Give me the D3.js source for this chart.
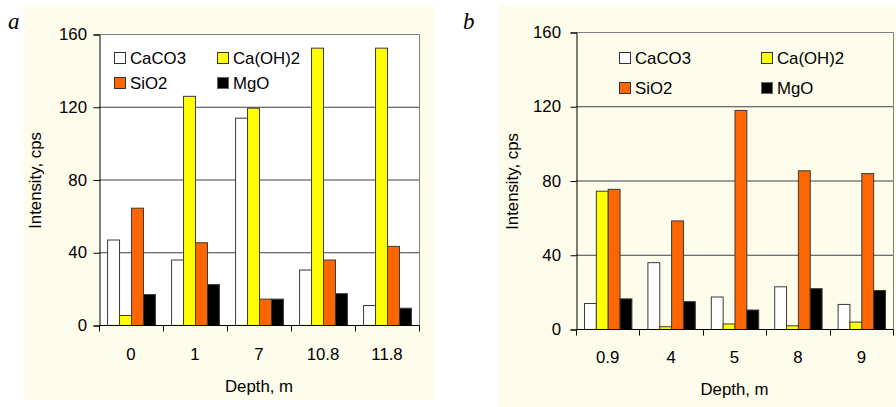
<!DOCTYPE html>
<html>
<head>
<meta charset="utf-8">
<script src="https://cdn.jsdelivr.net/npm/d3@7"></script>
<style>
  html, body { margin: 0; padding: 0; background: #ffffff; }
  svg { display: block; }
  text { font-family: "Liberation Sans", Arial, sans-serif; fill: #000; }
</style>
</head>
<body>
<svg id="chart" width="896" height="407"></svg>
<script>
// ---------- data ----------
const seriesNames = ["CaCO3", "Ca(OH)2", "SiO2", "MgO"];
const seriesColors = ["#FFFFFF", "#FFFF00", "#FF6600", "#000000"];
const yTicks = [0, 40, 80, 120, 160];

const catsA = ["0", "1", "7", "10.8", "11.8"];
const caco3A = [47, 36, 114, 30.5, 11];
const caoh2A = [5.5, 126, 119.5, 152.5, 152.5];
const sio2A = [64.5, 45.5, 14.5, 36, 43.5];
const mgoA = [17, 22.5, 14.5, 17.5, 9.5];

const catsB = ["0.9", "4", "5", "8", "9"];
const caco3B = [14, 36, 17.5, 23, 13.5];
const caoh2B = [74.5, 1.5, 3, 2, 4];
const sio2B = [75.5, 58.5, 118, 85.5, 84];
const mgoB = [16.5, 15, 10.5, 22, 21];

// ---------- helpers ----------
const svg = d3.select("#chart");
const SX = 1.05;
const FS = 16;

function label(g, x, y, str, anchor) {
  return g.append("text")
    .attr("transform", `translate(${x},${y}) scale(${SX},1)`)
    .attr("text-anchor", anchor)
    .style("font-size", FS + "px")
    .text(str);
}

function panel(cfg) {
  const g = svg.append("g");
  g.append("rect").attr("x", cfg.bg[0]).attr("y", cfg.bg[1])
    .attr("width", cfg.bg[2]).attr("height", cfg.bg[3]).attr("fill", "#FEFCEA");

  const x0 = d3.scaleBand().domain(cfg.cats).range([cfg.left, cfg.right]).paddingInner(0).paddingOuter(0);
  const x1 = d3.scaleBand().domain(seriesNames).range([0, x0.bandwidth()]).paddingInner(0).paddingOuter(0.675);
  const y = d3.scaleLinear().domain([0, 160]).range([cfg.bottom, cfg.top]);

  if (cfg.plotFill) {
    g.append("rect").attr("x", cfg.left).attr("y", cfg.top)
      .attr("width", cfg.right - cfg.left).attr("height", cfg.bottom - cfg.top)
      .attr("fill", cfg.plotFill);
  }
  g.selectAll("line.grid").data(yTicks.filter(d => d > 0 && d < 160)).enter()
    .append("line").attr("class", "grid")
    .attr("x1", cfg.left).attr("x2", cfg.right)
    .attr("y1", d => y(d) + 0.5).attr("y2", d => y(d) + 0.5)
    .attr("stroke", "#404040").attr("stroke-width", 1);
  g.append("path")
    .attr("d", `M${cfg.left},${y(160) + 0.5}H${cfg.right + 0.5}V${cfg.bottom}`)
    .attr("fill", "none").attr("stroke", "#808080").attr("stroke-width", 1);

  const data = cfg.cats.map((c, i) => ({ cat: c, vals: cfg.series.map((s, j) => ({ name: seriesNames[j], v: s[i], color: seriesColors[j] })) }));
  const grp = g.selectAll("g.cat").data(data).enter().append("g")
    .attr("transform", d => `translate(${x0(d.cat)},0)`);
  grp.selectAll("rect").data(d => d.vals).enter().append("rect")
    .attr("x", d => x1(d.name) + 0.5)
    .attr("y", d => y(d.v) + 0.5)
    .attr("width", x1.bandwidth())
    .attr("height", d => Math.max(0, y(0) - y(d.v)))
    .attr("fill", d => d.color)
    .attr("stroke", "#3a3a3a").attr("stroke-width", 1);

  const yAxis = d3.axisLeft(y).tickValues(yTicks).tickSize(6).tickFormat("");
  const ya = g.append("g").attr("transform", `translate(${cfg.left + 0.5},0.5)`).call(yAxis);
  ya.selectAll("path, line").attr("stroke", "#000");
  yTicks.forEach(t => {
    label(g, cfg.left - cfg.yLabelGap, y(t) + 6, String(t), "end");
  });

  const xa = g.append("g").attr("transform", `translate(0,${cfg.bottom + 0.5})`);
  xa.append("line").attr("x1", cfg.left).attr("x2", cfg.right + 0.5).attr("stroke", "#000");
  const bounds = cfg.cats.map(c => x0(c)).concat([x0(cfg.cats[cfg.cats.length - 1]) + x0.bandwidth()]);
  xa.selectAll("line.tk").data(bounds).enter().append("line").attr("class", "tk")
    .attr("x1", d => Math.round(d) + 0.5).attr("x2", d => Math.round(d) + 0.5)
    .attr("y1", 0).attr("y2", 6).attr("stroke", "#000");
  cfg.cats.forEach(c => {
    label(g, x0(c) + x0.bandwidth() / 2, cfg.xLabelY, c, "middle");
  });

  label(g, (cfg.left + cfg.right) / 2, cfg.xTitleY, "Depth, m", "middle");
  g.append("text")
    .attr("transform", `translate(${cfg.yTitleX},${(cfg.top + cfg.bottom) / 2 + 1}) rotate(-90) scale(${SX},1)`)
    .attr("text-anchor", "middle").style("font-size", FS + "px").text("Intensity, cps");

  cfg.legend.forEach((it, i) => {
    g.append("rect").attr("x", it[0] + 0.5).attr("y", it[1] - 11.5)
      .attr("width", 11).attr("height", 11)
      .attr("fill", seriesColors[i]).attr("stroke", i === 3 ? "#666" : "#333").attr("stroke-width", 1);
    label(g, it[0] + 16, it[1], seriesNames[i], "start");
  });

  g.append("text").attr("x", cfg.letter[0]).attr("y", cfg.letter[1])
    .style("font-family", "'Liberation Serif', 'Times New Roman', serif")
    .style("font-style", "italic").style("font-size", "23px").text(cfg.letter[2]);
}

panel({
  bg: [24, 5, 410, 395],
  cats: catsA,
  series: [caco3A, caoh2A, sio2A, mgoA],
  left: 99, right: 419, top: 34, bottom: 325,
  plotFill: "#FFFFFF",
  yLabelGap: 12,
  xLabelY: 360, xTitleY: 392, yTitleX: 41,
  legend: [[114, 64], [217, 64], [114, 89], [217, 89]],
  letter: [8, 29, "a"]
});

panel({
  bg: [499, 5, 397, 402],
  cats: catsB,
  series: [caco3B, caoh2B, sio2B, mgoB],
  left: 576, right: 893, top: 32, bottom: 329,
  plotFill: null,
  yLabelGap: 15,
  xLabelY: 363, xTitleY: 395, yTitleX: 518,
  legend: [[619, 64], [761, 64], [619, 94], [761, 94]],
  letter: [463, 29, "b"]
});
</script>
</body>
</html>
